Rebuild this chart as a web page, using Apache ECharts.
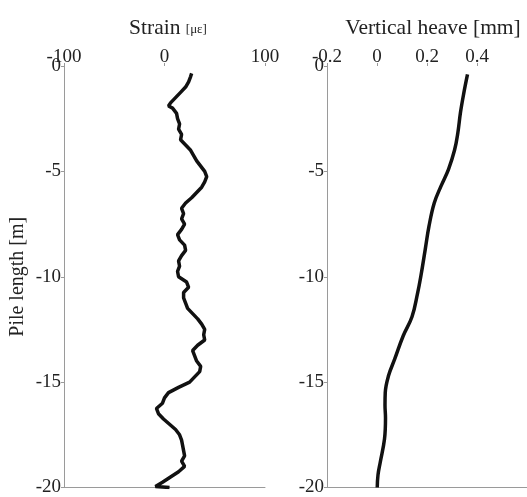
<!DOCTYPE html>
<html><head><meta charset="utf-8">
<script src="https://cdn.jsdelivr.net/npm/echarts@6/dist/echarts.min.js"></script>
<style>html,body{margin:0;padding:0;background:#fff}#c{width:527px;height:497px}</style>
</head><body><div id="c"></div>
<script>
// Strain profile
const strainDepth = [-0.35,-0.5,-0.75,-1.0,-1.25,-1.5,-1.75,-1.9,-2.0,-2.25,-2.5,-2.75,-3.0,-3.25,-3.5,-3.75,-4.0,-4.25,-4.5,-4.75,-5.0,-5.25,-5.5,-5.75,-6.0,-6.25,-6.5,-6.75,-7.0,-7.25,-7.5,-7.75,-8.0,-8.25,-8.5,-8.75,-9.0,-9.25,-9.5,-9.75,-10.0,-10.25,-10.5,-10.75,-11.0,-11.25,-11.5,-11.75,-12.0,-12.25,-12.5,-12.75,-13.0,-13.25,-13.5,-13.75,-14.0,-14.25,-14.5,-14.75,-15.0,-15.25,-15.5,-15.75,-16.0,-16.25,-16.5,-16.75,-17.0,-17.25,-17.5,-17.75,-18.0,-18.25,-18.5,-18.75,-19.0,-19.25,-19.5,-19.75,-19.95,-20.0];
const strainValues = [27,26,24,21,16,11,6,4,8,12,13,15,14,17,16,21,26,29,32,36,40,42,40,37,32,27,21,17,19,17,20,17,13,15,20,21,17,14,15,13,14,22,24,19,19,21,23,28,33,37,40,39,40,33,28,30,32,36,35,30,25,14,4,0,-2,-8,-6,-1,5,11,15,17,18,19,20,17,20,14,6,-2,-9,5];
// Vertical heave profile
const heaveDepth = [-0.4,-1.3,-2.2,-3.2,-4.0,-4.9,-5.7,-6.5,-7.6,-8.7,-10.0,-10.8,-11.9,-12.8,-13.9,-14.7,-15.5,-16.1,-16.7,-17.7,-18.8,-19.4,-20.0];
const heaveValues = [0.362,0.347,0.334,0.323,0.31,0.286,0.256,0.229,0.208,0.193,0.175,0.162,0.14,0.105,0.071,0.046,0.033,0.032,0.034,0.03,0.013,0.004,0.001];
const depthTicks = [0,-5,-10,-15,-20];
const strainTicks = [-100,0,100];
const heaveTicks = [-0.2,0,0.2,0.4];

const FONT = 'Liberation Serif';
const grey = '#9a9a9a';
const chart = echarts.init(document.getElementById('c'));
const xTop = (idx, min, max, interval, showMax) => ({
  type: 'value', gridIndex: idx, position: 'top', min, max, interval,
  axisLine: {show: false}, splitLine: {show: false},
  axisTick: {show: true, length: 3, lineStyle: {color: grey}},
  axisLabel: {fontFamily: FONT, fontSize: 19, color: '#222', margin: -1, showMaxLabel: showMax}
});
const xBottom = (idx, min, max) => ({
  type: 'value', gridIndex: idx, position: 'bottom', min, max,
  axisLine: {show: true, onZero: false, lineStyle: {color: grey, width: 1}},
  axisTick: {show: false}, axisLabel: {show: false}, splitLine: {show: false}
});
const yAx = (idx, name) => ({
  type: 'value', gridIndex: idx, min: -20, max: 0, interval: 5,
  name, nameLocation: 'middle', nameGap: 36,
  nameTextStyle: {fontFamily: FONT, fontSize: 20, color: '#222'},
  axisLine: {show: true, onZero: false, lineStyle: {color: grey, width: 1}},
  axisTick: {show: true, length: 3, lineStyle: {color: grey}},
  axisLabel: {fontFamily: FONT, fontSize: 19, color: '#222', margin: 3},
  splitLine: {show: false}
});
chart.setOption({
  animation: false,
  title: [
    {text: '{a|Strain }{b|[με]}', left: 163, top: 12, textAlign: 'center',
     textStyle: {fontWeight: 'normal', rich: {a: {fontFamily: FONT, fontSize: 21.5, fontWeight: 'normal', color: '#222'}, b: {fontFamily: FONT, fontSize: 13, fontWeight: 'normal', color: '#222', padding: [4,0,0,0]}}}},
    {text: 'Vertical heave [mm]', left: 428, top: 12, textAlign: 'center',
     textStyle: {fontFamily: FONT, fontSize: 21.5, fontWeight: 'normal', color: '#222'}}
  ],
  grid: [
    {left: 64, top: 66, width: 201, height: 423},
    {left: 327, top: 66, width: 203, height: 423}
  ],
  xAxis: [
    xTop(0, -100, 100, 100, true), xTop(1, -0.2, 0.6, 0.2, false),
    xBottom(0, -100, 100), xBottom(1, -0.2, 0.6)
  ],
  yAxis: [yAx(0, 'Pile length [m]'), yAx(1, '')],
  series: [
    {type: 'line', xAxisIndex: 0, yAxisIndex: 0, symbol: 'none', smooth: false,
     lineStyle: {color: '#111', width: 3.5}, data: strainValues.map((v, i) => [v, strainDepth[i]])},
    {type: 'line', xAxisIndex: 1, yAxisIndex: 1, symbol: 'none', smooth: 0.4,
     lineStyle: {color: '#111', width: 3.5}, data: heaveValues.map((v, i) => [v, heaveDepth[i]])}
  ]
});
</script></body></html>
